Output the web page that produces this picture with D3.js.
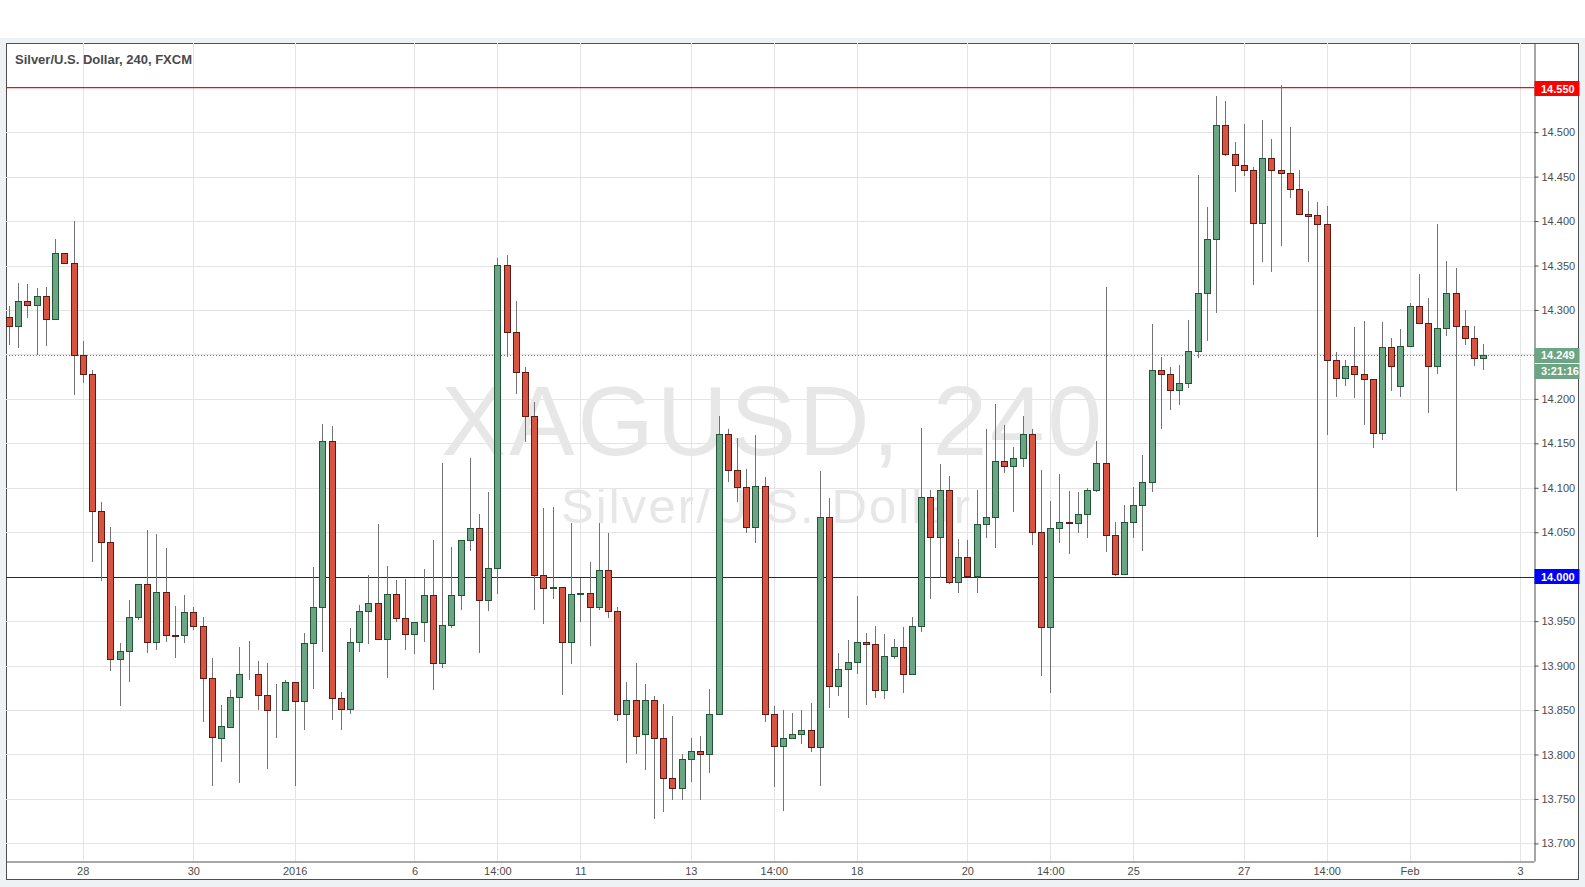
<!DOCTYPE html>
<html>
<head>
<meta charset="utf-8">
<script src="https://cdnjs.cloudflare.com/ajax/libs/d3/7.8.5/d3.min.js"></script>
<style>
body { margin: 0; background: #fff; }
svg { display: block; font-family: "Liberation Sans", Arial, sans-serif; }
</style>
</head>
<body>
<svg id="chart" width="1585" height="887"></svg>
<script>
// XAGUSD 240 min candles (bar 0 = first bar on the left)
var openP = [14.292,14.282,14.310,14.306,14.316,14.290,14.364,14.353,14.249,14.228,
	14.074,14.039,13.907,13.916,13.955,13.992,13.927,13.983,13.934,13.934,
	13.960,13.945,13.886,13.819,13.831,13.865,13.890,13.891,13.867,13.850,
	13.850,13.881,13.860,13.925,13.966,14.153,13.864,13.851,13.927,13.961,
	13.970,13.930,13.980,13.953,13.935,13.949,13.979,13.903,13.946,13.979,
	14.041,14.055,13.974,14.010,14.351,14.275,14.230,14.181,14.002,13.987,
	13.988,13.926,13.981,13.982,13.966,14.008,13.961,13.846,13.861,13.823,
	13.861,13.819,13.773,13.762,13.795,13.804,13.800,13.845,14.160,14.120,
	14.101,14.056,14.102,13.845,13.809,13.818,13.823,13.828,13.808,14.067,
	13.877,13.896,13.904,13.926,13.924,13.873,13.911,13.921,13.891,13.944,
	14.090,14.045,14.098,13.994,14.022,14.001,14.059,14.067,14.130,14.124,
	14.133,14.161,14.050,13.943,14.055,14.061,14.060,14.070,14.098,14.128,
	14.047,14.003,14.062,14.081,14.106,14.233,14.228,14.210,14.218,14.254,
	14.319,14.380,14.508,14.476,14.463,14.457,14.398,14.471,14.458,14.454,
	14.436,14.408,14.407,14.397,14.244,14.224,14.237,14.228,14.222,14.162,
	14.258,14.215,14.260,14.305,14.285,14.237,14.280,14.319,14.282,14.268,
	14.246];

var highP = [14.305,14.330,14.329,14.325,14.326,14.380,14.364,14.400,14.265,14.233,
	14.084,14.056,13.925,13.974,13.992,14.053,14.048,14.032,13.967,13.979,
	13.966,13.955,13.909,13.856,13.873,13.921,13.928,13.905,13.903,13.879,
	13.884,13.881,13.937,14.011,14.172,14.170,13.870,13.942,13.968,14.002,
	14.059,14.012,13.996,13.997,13.949,14.009,14.041,14.128,14.033,14.041,
	14.134,14.070,14.095,14.358,14.362,14.310,14.236,14.196,14.077,14.078,
	13.988,14.060,13.998,14.016,14.060,14.049,13.966,13.882,13.903,13.879,
	13.866,13.857,13.843,13.801,13.819,13.821,13.874,14.181,14.166,14.156,
	14.121,14.159,14.112,13.854,13.850,13.847,13.850,13.858,14.119,14.089,
	13.914,13.929,13.978,13.937,13.944,13.935,13.930,13.943,13.955,14.167,
	14.097,14.127,14.113,14.042,14.041,14.098,14.166,14.194,14.171,14.146,
	14.181,14.166,14.120,14.085,14.115,14.096,14.095,14.100,14.153,14.326,
	14.062,14.081,14.101,14.137,14.284,14.247,14.236,14.238,14.289,14.452,
	14.416,14.541,14.535,14.489,14.509,14.461,14.514,14.492,14.553,14.506,
	14.457,14.434,14.422,14.417,14.253,14.244,14.281,14.288,14.222,14.286,
	14.269,14.279,14.308,14.340,14.314,14.397,14.355,14.347,14.300,14.282,
	14.262];

var lowP = [14.261,14.257,14.291,14.249,14.260,14.290,14.353,14.204,14.218,14.017,
	13.995,13.894,13.854,13.882,13.951,13.914,13.918,13.927,13.908,13.925,
	13.940,13.837,13.765,13.791,13.830,13.768,13.884,13.850,13.784,13.818,
	13.850,13.764,13.827,13.874,13.915,13.839,13.828,13.846,13.915,13.924,
	13.930,13.886,13.949,13.917,13.913,13.926,13.872,13.897,13.942,13.962,
	14.029,13.914,13.961,13.981,14.247,14.205,14.151,13.962,13.947,13.975,
	13.867,13.902,13.949,13.922,13.962,13.953,13.838,13.790,13.800,13.782,
	13.728,13.735,13.749,13.749,13.769,13.749,13.779,13.845,14.106,14.084,
	14.049,14.038,13.837,13.763,13.737,13.818,13.812,13.803,13.765,13.852,
	13.866,13.841,13.891,13.856,13.864,13.862,13.907,13.869,13.891,13.938,
	13.975,13.999,13.992,13.982,14.001,13.982,14.044,14.032,14.117,14.073,
	14.123,14.036,13.888,13.869,14.038,14.026,14.049,14.043,14.095,14.028,
	14.001,14.003,14.043,14.029,14.095,14.166,14.187,14.193,14.212,14.246,
	14.265,14.297,14.473,14.433,14.451,14.328,14.354,14.343,14.372,14.426,
	14.407,14.354,14.045,14.159,14.202,14.214,14.201,14.171,14.145,14.154,
	14.209,14.202,14.260,14.285,14.184,14.228,14.271,14.096,14.261,14.237,
	14.232];

var closeP = [14.282,14.310,14.306,14.316,14.290,14.364,14.353,14.249,14.228,14.074,
	14.039,13.907,13.916,13.955,13.992,13.927,13.983,13.934,13.933,13.960,
	13.945,13.886,13.820,13.832,13.865,13.890,13.891,13.867,13.850,13.850,
	13.881,13.860,13.925,13.966,14.153,13.864,13.851,13.927,13.961,13.970,
	13.930,13.980,13.953,13.935,13.949,13.979,13.903,13.946,13.979,14.041,
	14.055,13.974,14.010,14.351,14.275,14.230,14.181,14.002,13.987,13.988,
	13.926,13.981,13.982,13.966,14.008,13.961,13.846,13.861,13.821,13.861,
	13.819,13.773,13.762,13.795,13.804,13.800,13.845,14.160,14.120,14.101,
	14.056,14.102,13.845,13.809,13.818,13.823,13.828,13.808,14.067,13.877,
	13.896,13.904,13.926,13.924,13.873,13.911,13.921,13.891,13.944,14.090,
	14.045,14.098,13.994,14.022,14.001,14.059,14.067,14.130,14.124,14.133,
	14.161,14.050,13.943,14.055,14.061,14.060,14.070,14.098,14.128,14.047,
	14.003,14.062,14.081,14.106,14.233,14.228,14.210,14.218,14.254,14.319,
	14.380,14.508,14.476,14.463,14.457,14.398,14.471,14.458,14.454,14.436,
	14.408,14.406,14.397,14.244,14.224,14.237,14.228,14.222,14.162,14.258,
	14.237,14.260,14.305,14.285,14.237,14.280,14.319,14.282,14.268,14.246,
	14.249];

// time axis: bar index of each label
var timeTickBars = [8, 20, 31, 44, 53, 62, 74, 83, 92, 104, 113, 122, 134, 143, 152, 164];
var timeTickLabels = ["28", "30", "2016", "6", "14:00", "11", "13", "14:00", "18", "20", "14:00", "25", "27", "14:00", "Feb", "3"];

var priceTicks = [13.70, 13.75, 13.80, 13.85, 13.90, 13.95, 14.00, 14.05, 14.10, 14.15,
	14.20, 14.25, 14.30, 14.35, 14.40, 14.45, 14.50, 14.55];

// drawn levels
var resistance = 14.550;
var support = 14.000;
var lastPrice = 14.249;
var countdown = "3:21:16";

var W = 1585, H = 887;
var plotLeft = 6, plotTop = 43, plotRight = 1534, plotBottom = 861;

var upFill = "#6ba583", upBorder = "#225437";
var downFill = "#d75442", downBorder = "#5b1a13";
var wickColor = "#737375";

var svg = d3.select("#chart");

// page background and frame
svg.append("rect").attr("width", W).attr("height", H).attr("fill", "#eff2f5");
svg.append("rect").attr("width", W).attr("height", 38).attr("fill", "#fff");
svg.append("rect")
	.attr("x", 6.5).attr("y", 43.5)
	.attr("width", 1572).attr("height", 836)
	.attr("fill", "#fff")
	.attr("stroke", "#4f4f4f");

var x = d3.scaleLinear().domain([-0.326, 165.5]).range([plotLeft, plotRight]);
var y = d3.scaleLinear().domain([13.6802, 14.6003]).range([plotBottom, plotTop]);

function px(v) { return Math.round(v) + 0.5; }

// grid (the 14.55 row is covered by the red level, so skip it here)
var grid = svg.append("g");
grid.selectAll("line.h")
	.data(priceTicks.filter(function(d) { return d < 14.52; }))
	.enter().append("line")
	.attr("x1", plotLeft).attr("x2", plotRight)
	.attr("y1", function(d) { return px(y(d)); })
	.attr("y2", function(d) { return px(y(d)); })
	.attr("stroke", "#e4e4e4");
grid.selectAll("line.v")
	.data(timeTickBars)
	.enter().append("line")
	.attr("y1", plotTop).attr("y2", plotBottom)
	.attr("x1", function(d) { return px(x(d)); })
	.attr("x2", function(d) { return px(x(d)); })
	.attr("stroke", "#e4e4e4");

// watermark
svg.append("text")
	.attr("x", 441).attr("y", 455)
	.attr("textLength", 661).attr("lengthAdjust", "spacing")
	.attr("font-size", 98)
	.attr("fill", "#e7e7e7")
	.text("XAGUSD, 240");
svg.append("text")
	.attr("x", 561).attr("y", 523)
	.attr("textLength", 409).attr("lengthAdjust", "spacing")
	.attr("font-size", 49)
	.attr("fill", "#e7e7e7")
	.text("Silver/U.S. Dollar");

// horizontal levels
svg.append("line")
	.attr("x1", plotLeft).attr("x2", plotRight)
	.attr("y1", y(resistance)).attr("y2", y(resistance))
	.attr("stroke", "#e0141c")
	.attr("stroke-width", 1.3);
svg.append("rect")
	.attr("x", plotLeft).attr("width", plotRight - plotLeft)
	.attr("y", Math.round(y(support))).attr("height", 1)
	.attr("fill", "#1a1aa8")
	.attr("shape-rendering", "crispEdges");
svg.append("line")
	.attr("x1", plotLeft).attr("x2", plotRight)
	.attr("y1", px(y(lastPrice))).attr("y2", px(y(lastPrice)))
	.attr("stroke", "#5f8a72")
	.attr("stroke-dasharray", "1,2");

// candles
var bars = d3.range(openP.length).map(function(i) {
	return { i: i, o: openP[i], h: highP[i], l: lowP[i], c: closeP[i] };
});

var candles = svg.append("g").selectAll("g")
	.data(bars)
	.enter().append("g");

candles.append("line")
	.attr("x1", function(d) { return px(x(d.i)); })
	.attr("x2", function(d) { return px(x(d.i)); })
	.attr("y1", function(d) { return Math.round(y(d.h)); })
	.attr("y2", function(d) { return Math.round(y(d.l)); })
	.attr("stroke", wickColor);

candles.append("rect")
	.attr("x", function(d) { return Math.round(x(d.i)) - 2.5; })
	.attr("width", 6)
	.attr("y", function(d) { return Math.round(y(Math.max(d.o, d.c))) + 0.5; })
	.attr("height", function(d) {
		return Math.max(0, Math.round(y(Math.min(d.o, d.c))) - Math.round(y(Math.max(d.o, d.c))));
	})
	.attr("fill", function(d) { return d.c >= d.o ? upFill : downFill; })
	.attr("stroke", function(d) { return d.c >= d.o ? upBorder : downBorder; });

// price axis
var yAxis = svg.append("g")
	.attr("transform", "translate(" + (plotRight + 0.5) + ",0)")
	.call(d3.axisRight(y)
		.tickValues(priceTicks.filter(function(d) { return d < 14.52; }))
		.tickSize(4)
		.tickSizeOuter(0)
		.tickPadding(3)
		.tickFormat(d3.format(".3f")));
yAxis.select(".domain").attr("stroke", "#4f4f4f");
yAxis.selectAll(".tick line").attr("stroke", "#4f4f4f");
yAxis.selectAll(".tick text")
	.attr("fill", "#4c4c4c")
	.attr("font-size", 11)
	.attr("font-family", "Liberation Sans, Arial, sans-serif");

// time axis
var xAxis = svg.append("g")
	.attr("transform", "translate(0," + (plotBottom + 0.5) + ")")
	.call(d3.axisBottom(x)
		.tickValues(timeTickBars)
		.tickSize(0)
		.tickSizeOuter(0)
		.tickPadding(6)
		.tickFormat(function(d, i) { return timeTickLabels[i]; }));
xAxis.select(".domain").attr("stroke", "#4f4f4f");
xAxis.selectAll(".tick text")
	.attr("fill", "#4c4c4c")
	.attr("font-size", 11)
	.attr("font-family", "Liberation Sans, Arial, sans-serif");

// price tags on the axis
function tag(price, label, fill, offset) {
	var cy = y(price) + offset;
	svg.append("rect")
		.attr("x", plotRight + 0.5).attr("y", Math.round(cy - 7.5))
		.attr("width", 45).attr("height", 15)
		.attr("fill", fill);
	svg.append("text")
		.attr("x", plotRight + 7).attr("y", cy)
		.attr("dy", "0.35em")
		.attr("fill", "#fff")
		.attr("font-size", 11)
		.attr("font-weight", "bold")
		.text(label);
}
tag(resistance, resistance.toFixed(3), "#ff0000", 1);
tag(support, support.toFixed(3), "#0000ff", 0);
tag(lastPrice, lastPrice.toFixed(3), upFill, 0);
tag(lastPrice, countdown, upFill, 16);
svg.append("line")
	.attr("x1", plotRight + 1).attr("x2", plotRight + 45)
	.attr("y1", Math.round(y(lastPrice) + 8) + 0.5)
	.attr("y2", Math.round(y(lastPrice) + 8) + 0.5)
	.attr("stroke", "#fff");

// title
svg.append("text")
	.attr("x", 15).attr("y", 64)
	.attr("font-size", 13)
	.attr("font-weight", "bold")
	.attr("fill", "#4a4a4a")
	.text("Silver/U.S. Dollar, 240, FXCM");
</script>
</body>
</html>
